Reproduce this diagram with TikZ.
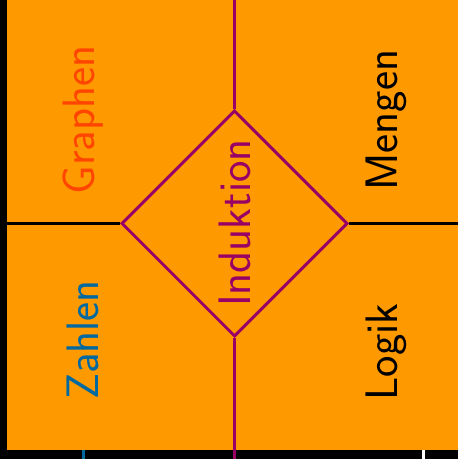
\documentclass[tikz,border=0pt]{standalone}
\usepackage{fontspec}
\usetikzlibrary{shapes.geometric}
\definecolor{bgorange}{RGB}{255,153,0}
\definecolor{indpurple}{RGB}{153,0,102}
\definecolor{graphred}{RGB}{255,69,0}
\definecolor{zahlblue}{RGB}{0,105,160}
\tikzset{
  lbl/.style={rotate=90,anchor=base,inner sep=0pt,font=\sffamily\fontsize{45.5}{54}\selectfont},
  purpleline/.style={draw=indpurple,line width=3pt},
  blackline/.style={draw=black,line width=3pt},
  tick/.style={line width=3pt}
}
\begin{document}
\begin{tikzpicture}[x=1pt,y=1pt]
\useasboundingbox (0,0) rectangle (458,459);
\fill[black] (0,0) rectangle (458,459);
\fill[bgorange] (7,8.5) rectangle (458,459);
% diamond
\node[diamond,aspect=1,minimum width=226pt,minimum height=226pt,inner sep=0pt,purpleline] (ind) at (234.5,235.5) {};
\coordinate (L) at (7,235.5);
\coordinate (R) at (458,235.5);
\coordinate (T) at (234.5,459);
\coordinate (B) at (234.5,0);
\draw[blackline] (L) -- (ind.west);
\draw[blackline] (ind.east) -- (R);
\draw[purpleline] (T) -- (ind.north);
\draw[purpleline] (ind.south) -- (B);
% labels
\node[lbl,text=indpurple] (indt) at (250,236) {Induktion};
\node[lbl,text=graphred] (graph) at (95,339) {Graphen};
\node[lbl,text=zahlblue] (zahl) at (98,119) {Zahlen};
\node[lbl,text=black] (meng) at (397,339) {Mengen};
\node[lbl,text=black] (logik) at (397,107) {Logik};
% bottom ticks
\coordinate (tb0) at (83,0); \coordinate (tb1) at (83,8.5);
\coordinate (tw0) at (423,0); \coordinate (tw1) at (423,8.5);
\draw[tick,draw=zahlblue] (tb0) -- (tb1);
\draw[tick,draw=white] (tw0) -- (tw1);
\end{tikzpicture}
\end{document}
